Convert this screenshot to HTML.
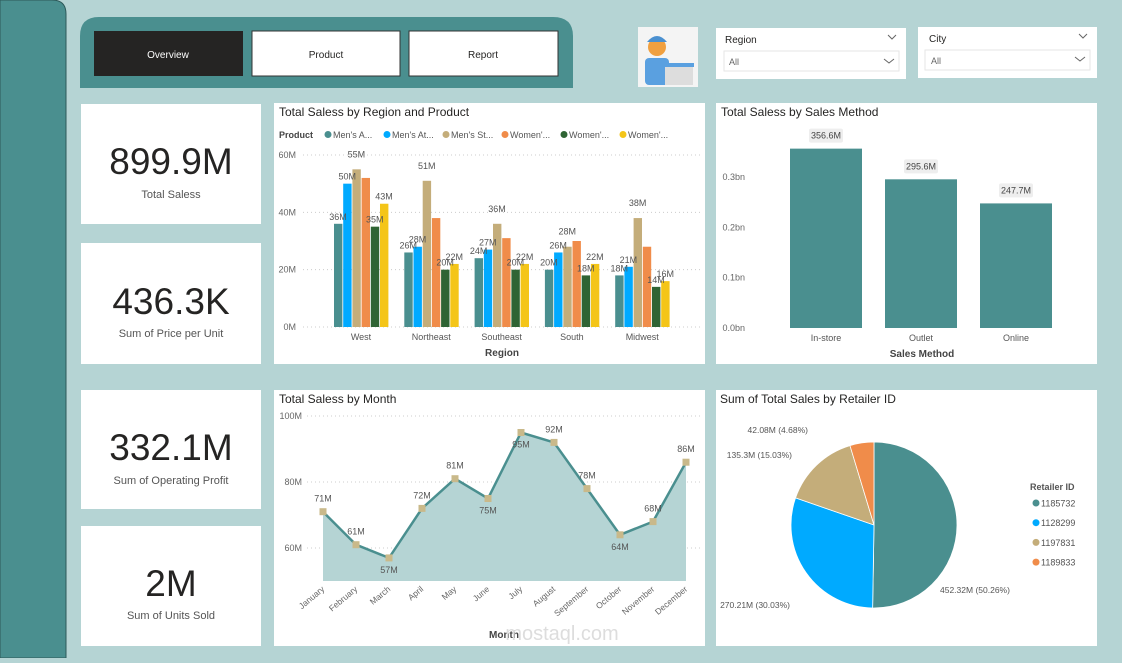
<!DOCTYPE html>
<html><head><meta charset="utf-8"><style>
body{margin:0;width:1122px;height:658px;overflow:hidden;background:#b5d4d4;font-family:"Liberation Sans",sans-serif}
svg text{font-family:"Liberation Sans",sans-serif}
</style></head><body>
<svg id="s" width="1122" height="658" viewBox="0 0 1122 658" xmlns="http://www.w3.org/2000/svg">
<rect x="0" y="0" width="1122" height="658" fill="#b5d4d4"/>
<path d="M0 0 H52 Q66 0 66 14 V658 H0 Z" fill="#4a8f8f" stroke="#2d5a5a" stroke-width="1"/>
<path d="M80 658 V36 Q80 17 99 17 H553 Q573 17 573 36 V88 H80" fill="#4a8f8f"/>
<g><rect x="94" y="31" width="149" height="45" fill="#252423"/><text x="168" y="58" fill="#fff" font-size="10" text-anchor="middle">Overview</text></g>
<g><rect x="252" y="31" width="148" height="45" fill="#fff" stroke="#333"/><text x="326" y="58" fill="#252423" font-size="10" text-anchor="middle">Product</text></g>
<g><rect x="409" y="31" width="149" height="45" fill="#fff" stroke="#333"/><text x="483" y="58" fill="#252423" font-size="10" text-anchor="middle">Report</text></g>
<g><rect x="638" y="27" width="60" height="60" fill="#f4f4f4"/><circle cx="657" cy="47" r="9" fill="#f0a040"/><path d="M647 42 Q657 30 667 42 Z" fill="#4a90d0"/><rect x="645" y="58" width="24" height="27" rx="4" fill="#5aa0e0"/><rect x="665" y="65" width="28" height="20" fill="#ddd"/><rect x="664" y="63" width="30" height="4" fill="#5aa0e0"/></g>
<g><rect x="716" y="28" width="190" height="51" fill="#fff"/><text x="725" y="43" font-size="10" fill="#252423">Region</text><path d="M888 35 l4 4 l4 -4" fill="none" stroke="#666"/><rect x="724" y="51" width="175" height="20" fill="#fff" stroke="#e6e6e6"/><text x="729" y="65" font-size="9" fill="#666">All</text><path d="M884 59 l5 4 l5 -4" fill="none" stroke="#666"/></g>
<g><rect x="918" y="27" width="179" height="51" fill="#fff"/><text x="929" y="42" font-size="10" fill="#252423">City</text><path d="M1079 34 l4 4 l4 -4" fill="none" stroke="#666"/><rect x="925" y="50" width="165" height="20" fill="#fff" stroke="#e6e6e6"/><text x="931" y="64" font-size="9" fill="#666">All</text><path d="M1075 57 l5 4 l5 -4" fill="none" stroke="#666"/></g>
<g><rect x="81" y="104" width="180" height="120" fill="#fff"/><text x="171" y="174" font-size="37" text-anchor="middle" fill="#252423">899.9M</text><text x="171" y="198" font-size="11" text-anchor="middle" fill="#555">Total Saless</text></g>
<g><rect x="81" y="243" width="180" height="121" fill="#fff"/><text x="171" y="314" font-size="37" text-anchor="middle" fill="#252423">436.3K</text><text x="171" y="337" font-size="11" text-anchor="middle" fill="#555">Sum of Price per Unit</text></g>
<g><rect x="81" y="390" width="180" height="119" fill="#fff"/><text x="171" y="460" font-size="37" text-anchor="middle" fill="#252423">332.1M</text><text x="171" y="484" font-size="11" text-anchor="middle" fill="#555">Sum of Operating Profit</text></g>
<g><rect x="81" y="526" width="180" height="120" fill="#fff"/><text x="171" y="596" font-size="37" text-anchor="middle" fill="#252423">2M</text><text x="171" y="619" font-size="11" text-anchor="middle" fill="#555">Sum of Units Sold</text></g>
<rect x="274" y="103" width="431" height="261" fill="#fff"/>
<rect x="716" y="103" width="381" height="261" fill="#fff"/>
<rect x="274" y="390" width="431" height="256" fill="#fff"/>
<rect x="716" y="390" width="381" height="256" fill="#fff"/>
<text x="279" y="116" font-size="12" fill="#252423">Total Saless by Region and Product</text>
<text x="721" y="116" font-size="12" fill="#252423">Total Saless by Sales Method</text>
<text x="279" y="403" font-size="12" fill="#252423">Total Saless by Month</text>
<text x="720" y="403" font-size="12" fill="#252423">Sum of Total Sales by Retailer ID</text>
<g id="g1"></g><g id="g2"></g><g id="g3"></g><g id="g4"></g>
</svg>
<script>
const regions=["West","Northeast","Southeast","South","Midwest"];
const products=["Men's A...","Men's At...","Men's St...","Women'...","Women'...","Women'..."];
const productColors=["#4a8f8f","#00aaff","#c4ad7a","#f08c4a","#2f6434","#f4c518"];
const regionSales=[[36,50,55,52,35,43],[26,28,51,38,20,22],[24,27,36,31,20,22],[20,26,28,30,18,22],[18,21,38,28,14,16]];
const regionTicks=[0,20,40,60];
const methods=["In-store","Outlet","Online"];
const methodSales=[356.6,295.6,247.7];
const methodTicks=[0,0.1,0.2,0.3];
const months=["January","February","March","April","May","June","July","August","September","October","November","December"];
const monthSales=[71,61,57,72,81,75,95,92,78,64,68,86];
const monthTicks=[60,80,100];
const retailers=["1185732","1128299","1197831","1189833"];
const retailerSales=[452.32,270.21,135.3,42.08];
const retailerColors=["#4a8f8f","#00aaff","#c4ad7a","#f08c4a"];
const NS="http://www.w3.org/2000/svg";
function mk(p,t,a,txt){const e=document.createElementNS(NS,t);for(const k in a)e.setAttribute(k,a[k]);if(txt!=null)e.textContent=txt;p.appendChild(e);return e;}
// chart 1
const g1=document.getElementById('g1');
const y1=v=>327-v*(172/60);
mk(g1,'text',{x:279,y:138,'font-size':9,'font-weight':'bold',fill:'#444'},'Product');
products.forEach((p,i)=>{const lx=328+i*59;const d=mk(g1,'circle',{cx:lx,cy:134.5,r:3.5,fill:productColors[i]});const t=mk(g1,'text',{x:lx+5,y:138,'font-size':9,fill:'#555'},p);});
regionTicks.forEach(v=>{mk(g1,'line',{x1:303,x2:700,y1:y1(v),y2:y1(v),stroke:'#ccc','stroke-dasharray':'1 3'});const t=mk(g1,'text',{x:296,y:y1(v)+3,'font-size':9,fill:'#666','text-anchor':'end'},v+'M');});
regions.forEach((r,ri)=>{const cx=361+ri*70.3;regionSales[ri].forEach((v,pi)=>{const x=cx-27+pi*9.2;const b=mk(g1,'rect',{x:x,y:y1(v),width:8.4,height:327-y1(v),fill:productColors[pi]});});
const t=mk(g1,'text',{x:cx,y:340,'font-size':9,fill:'#555','text-anchor':'middle'},r);
[0,1,2,4,5].forEach(pi=>{const v=regionSales[ri][pi];const l=mk(g1,'text',{x:cx-27+pi*9.2+4,y:y1(v)-4-(pi==2?8:0),'font-size':9,fill:'#555','text-anchor':'middle'},v+'M');});});
let t1=mk(g1,'text',{x:502,y:356,'font-size':10,'font-weight':'bold',fill:'#444','text-anchor':'middle'},'Region');
// chart 2
const g2=document.getElementById('g2');
const y2=v=>328-v*503;
methodTicks.forEach(v=>{const t=mk(g2,'text',{x:745,y:y2(v)+3,'font-size':9,fill:'#666','text-anchor':'end'},v.toFixed(1)+'bn');});
methods.forEach((m,i)=>{const cx=826+i*95;const v=methodSales[i]/1000;const b=mk(g2,'rect',{x:cx-36,y:y2(v),width:72,height:328-y2(v),fill:'#4a8f8f'});
mk(g2,'rect',{x:cx-17,y:y2(v)-20,width:34,height:14,rx:2,fill:'#eee'});const l=mk(g2,'text',{x:cx,y:y2(v)-10,'font-size':9,fill:'#444','text-anchor':'middle'},methodSales[i]+'M');
const t=mk(g2,'text',{x:cx,y:341,'font-size':9,fill:'#555','text-anchor':'middle'},m);});
let t2=mk(g2,'text',{x:922,y:357,'font-size':10,'font-weight':'bold',fill:'#444','text-anchor':'middle'},'Sales Method');
// chart 3
const g3=document.getElementById('g3');
const y3=v=>548-(v-60)*3.3;const x3=i=>323+i*33;
monthTicks.forEach(v=>{mk(g3,'line',{x1:307,x2:700,y1:y3(v),y2:y3(v),stroke:'#ccc','stroke-dasharray':'1 3'});const t=mk(g3,'text',{x:302,y:y3(v)+3,'font-size':9,fill:'#666','text-anchor':'end'},v+'M');});
let pts=monthSales.map((v,i)=>x3(i)+','+y3(v)).join(' ');
const ar=mk(g3,'polygon',{points:x3(0)+',581 '+pts+' '+x3(11)+',581',fill:'#b5d4d4'});
const ln=mk(g3,'polyline',{points:pts,fill:'none',stroke:'#4a8f8f','stroke-width':2.5});
const below=[2,5,6,9];
monthSales.forEach((v,i)=>{const p=mk(g3,'rect',{x:x3(i)-3.5,y:y3(v)-3.5,width:7,height:7,fill:'#c9b98a'});
const l=mk(g3,'text',{x:x3(i),y:below.includes(i)?y3(v)+15:y3(v)-10,'font-size':9,fill:'#555','text-anchor':'middle'},v+'M');
const t=mk(g3,'text',{x:x3(i)+2,y:590,'font-size':8.5,fill:'#666','text-anchor':'end',transform:'rotate(-40 '+(x3(i)+2)+' 590)'},months[i]);});
let t3=mk(g3,'text',{x:504,y:638,'font-size':10,'font-weight':'bold',fill:'#444','text-anchor':'middle'},'Month');
let wm=mk(g3,'text',{x:562,y:640,'font-size':20,fill:'#ddd','text-anchor':'middle'},'mostaql.com');
// chart 4
const g4=document.getElementById('g4');
const cx=874,cy=525,R=83;const tot=retailerSales.reduce((a,b)=>a+b,0);
let a=-Math.PI/2;
const lblPos=[[940,593,'start'],[790,608,'end'],[792,458,'end'],[808,433,'end']];
retailerSales.forEach((v,i)=>{const da=v/tot*2*Math.PI;const a2=a+da;const x1=cx+R*Math.cos(a),yy1=cy+R*Math.sin(a),x2=cx+R*Math.cos(a2),yy2=cy+R*Math.sin(a2);
const s=mk(g4,'path',{d:`M${cx},${cy} L${x1},${yy1} A${R},${R} 0 ${da>Math.PI?1:0} 1 ${x2},${yy2} Z`,fill:retailerColors[i],stroke:'#fff','stroke-width':0.8});
const l=mk(g4,'text',{x:lblPos[i][0],y:lblPos[i][1],'font-size':8.5,fill:'#555','text-anchor':lblPos[i][2]},v+'M ('+(v/tot*100).toFixed(2)+'%)');a=a2;});
mk(g4,'text',{x:1030,y:490,'font-size':9,'font-weight':'bold',fill:'#555'},'Retailer ID');
retailers.forEach((r,i)=>{const yy=503+i*19.7;mk(g4,'circle',{cx:1036,cy:yy,r:3.5,fill:retailerColors[i]});const t=mk(g4,'text',{x:1041,y:yy+3.5,'font-size':9,fill:'#555'},r);});
</script>
</body></html>
